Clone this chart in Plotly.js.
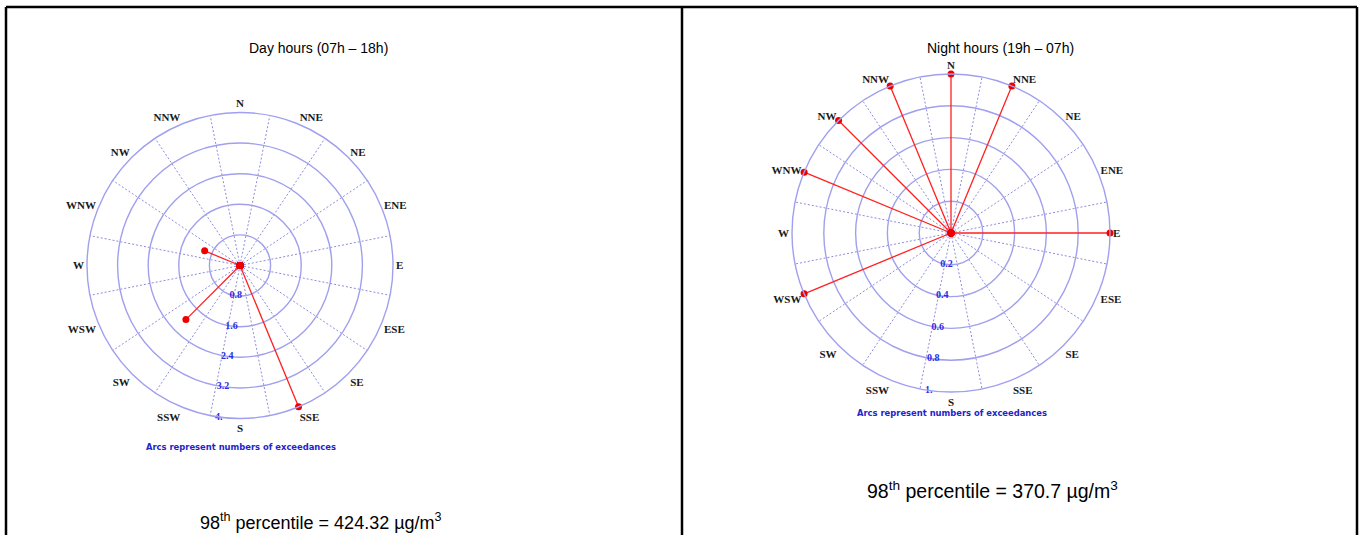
<!DOCTYPE html>
<html><head><meta charset="utf-8">
<script src="https://cdn.plot.ly/plotly-3.0.1.min.js"></script>
<style>html,body{margin:0;padding:0;background:#fff}#chart{width:1362px;height:535px}</style>
</head><body><div id="chart"></div>
<script>
// ---- data ----
const directions = ['N','NNE','NE','ENE','E','ESE','SE','SSE','S','SSW','SW','WSW','W','WNW','NW','NNW'];
const dayCounts   = [0,0,0,0,0,0,0,4,0,0,2,0,0,1,0,0];
const nightCounts = [1,1,0,0,1,0,0,0,0,0,0,1,0,1,1,1];
const dayTicks = [0.8,1.6,2.4,3.2,4];
const dayTickText = ['0.8','1.6','2.4','3.2','4.'];
const nightTicks = [0.2,0.4,0.6,0.8,1];
const nightTickText = ['0.2','0.4','0.6','0.8','1.'];
const panelTitles = ['Day hours (07h – 18h)','Night hours (19h – 07h)'];
const percentileLabels = ['98<sup>th</sup> percentile = 424.32 µg/m<sup>3</sup>','98<sup>th</sup> percentile = 370.7 µg/m<sup>3</sup>'];
const arcNote = 'Arcs represent numbers of exceedances';

// ---- helpers ----
const W = 1362, H = 535;
const step = 360 / directions.length;
const dirAngles = directions.map((d,i)=>i*step);
const gridAngles = directions.map((d,i)=>i*step + step/2);
const radLabelBearing = 188;
const px = x => x / W;
const py = y => 1 - y / H;
function dom(cx, cy, R){ return {x:[px(cx-R), px(cx+R)], y:[py(cy+R), py(cy-R)]}; }

function spokes(counts, sub){
  const r = [], theta = [];
  counts.forEach((v,i)=>{ r.push(0, v, null); theta.push(dirAngles[i], dirAngles[i], null); });
  return {type:'scatterpolar', subplot:sub, r, theta, mode:'lines+markers',
    line:{color:'#ff2020', width:1.3}, marker:{color:'#ee0000', size:7},
    connectgaps:false, hoverinfo:'skip', showlegend:false, cliponaxis:false};
}
function gridHolder(sub){
  return {type:'scatterpolar', subplot:sub, r:[0], theta:[0], mode:'markers',
    marker:{size:1, opacity:0}, hoverinfo:'skip', showlegend:false};
}
function radialLabels(ticks, tickText, sub){
  return {type:'scatterpolar', subplot:sub, r:ticks, theta:ticks.map(()=>radLabelBearing), mode:'text',
    text:tickText, textposition:'middle center', cliponaxis:false,
    textfont:{family:'Liberation Serif', size:10, color:'#2a2ae6', weight:'bold'},
    hoverinfo:'skip', showlegend:false};
}

const circleColor = '#a0a0ee';
const spokeColor = '#8c8ce0';
const labelFont = {family:'Liberation Serif', size:11, color:'#1a1a1a', weight:'bold'};

function gridPolar(d, maxR, ticks){
  return {domain:d, bgcolor:'rgba(0,0,0,0)',
    angularaxis:{rotation:90, direction:'clockwise', thetaunit:'degrees', tickmode:'array', tickvals:gridAngles,
      showticklabels:false, ticks:'', showgrid:true, gridcolor:spokeColor, griddash:'2px,2px', gridwidth:1, showline:false},
    radialaxis:{range:[0,maxR], tickmode:'array', tickvals:ticks, showticklabels:false, ticks:'',
      showgrid:true, gridcolor:circleColor, gridwidth:1.4, showline:false}};
}
function labelPolar(d, maxR){
  return {domain:d, bgcolor:'rgba(0,0,0,0)',
    angularaxis:{rotation:90, direction:'clockwise', thetaunit:'degrees', tickmode:'array', tickvals:dirAngles, ticktext:directions,
      showgrid:false, showline:true, linecolor:circleColor, linewidth:1.4, ticks:'', tickfont:labelFont},
    radialaxis:{range:[0,maxR], showticklabels:false, showgrid:false, showline:false, ticks:''}};
}

const dDay = dom(240, 265.5, 153);
const dNight = dom(951, 233, 159);

const data = [
  gridHolder('polar'), spokes(dayCounts,'polar2'), radialLabels(dayTicks, dayTickText, 'polar2'),
  gridHolder('polar3'), spokes(nightCounts,'polar4'), radialLabels(nightTicks, nightTickText, 'polar4')
];

const lineStyle = {color:'#000', width:2.5};
const shapes = [
  {type:'line', xref:'paper', yref:'paper', x0:px(6), x1:px(1357), y0:py(7), y1:py(7), line:lineStyle},
  {type:'line', xref:'paper', yref:'paper', x0:px(6), x1:px(6), y0:py(7), y1:py(540), line:lineStyle},
  {type:'line', xref:'paper', yref:'paper', x0:px(682), x1:px(682), y0:py(7), y1:py(540), line:lineStyle},
  {type:'line', xref:'paper', yref:'paper', x0:px(1357), x1:px(1357), y0:py(7), y1:py(540), line:lineStyle}
];

const titleFont = {family:'Liberation Sans', size:14, color:'#000'};
const pctFontL = {family:'Liberation Sans', size:18, color:'#000'};
const pctFontR = {family:'Liberation Sans', size:19.5, color:'#000'};
const noteFont = {family:'DejaVu Sans', size:8.4, color:'#2424cc', weight:'bold'};
const ann = (x,y,text,font)=>({xref:'paper', yref:'paper', x:px(x), y:py(y), text, font, showarrow:false, xanchor:'center', yanchor:'middle'});
const annotations = [
  ann(318, 48, panelTitles[0], titleFont),
  ann(1000, 48, panelTitles[1], titleFont),
  ann(241, 447, arcNote, noteFont),
  ann(952, 413, arcNote, noteFont),
  ann(321, 521, percentileLabels[0], pctFontL),
  ann(992, 490, percentileLabels[1], pctFontR)
];

const layout = {width:W, height:H, margin:{l:0,r:0,t:0,b:0}, paper_bgcolor:'#fff', showlegend:false,
  polar: gridPolar(dDay, 4, dayTicks),
  polar2: labelPolar(dDay, 4),
  polar3: gridPolar(dNight, 1, nightTicks),
  polar4: labelPolar(dNight, 1),
  shapes, annotations};

Plotly.newPlot('chart', data, layout, {displayModeBar:false, staticPlot:true});
</script></body></html>
